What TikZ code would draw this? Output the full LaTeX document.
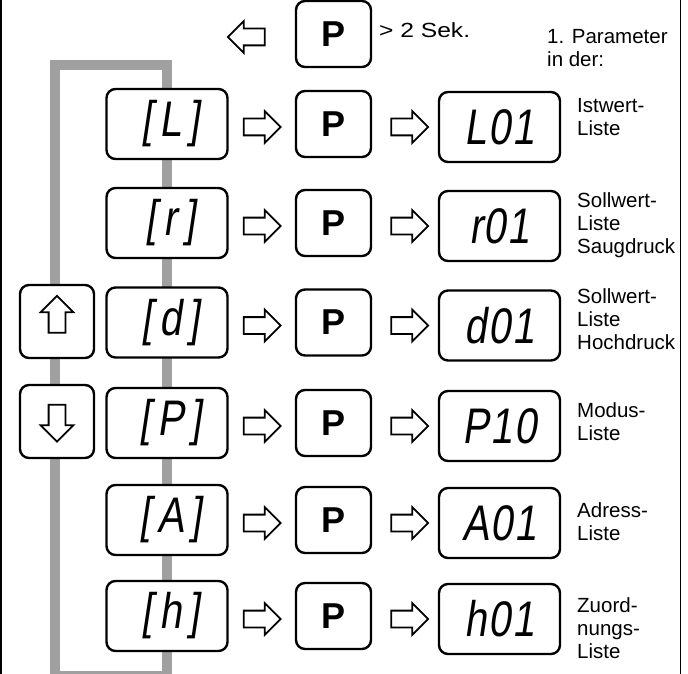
\documentclass[tikz,border=0pt]{standalone}
\usepackage{fontspec}
\setmainfont{Liberation Sans}
\newfontfamily\lcdfont[FakeSlant=0.15,FakeStretch=0.8,LetterSpace=3]{Liberation Sans}
\newfontfamily\lcdwide[FakeSlant=0.15,FakeStretch=0.8,LetterSpace=14]{Liberation Sans}
\newfontfamily\widefont[FakeStretch=1.2]{Liberation Sans}
\usetikzlibrary{shapes.arrows,backgrounds,calc}
\definecolor{loopgray}{RGB}{160,160,160}
\begin{document}
\begin{tikzpicture}[x=1pt,y=-1pt,
  rbox/.style={draw, line width=2.4pt, rounded corners=9pt, fill=white, inner sep=0pt},
  dispbox/.style={rbox, minimum width=121pt, minimum height=70pt},
  leftdisp/.style={dispbox, font=\lcdwide\fontsize{50}{50}\selectfont},
  rightdisp/.style={dispbox, font=\lcdfont\fontsize{50}{50}\selectfont},
  pbtn/.style={rbox, minimum width=75pt, minimum height=66pt, font=\bfseries\fontsize{36}{36}\selectfont},
  keybox/.style={rbox, minimum width=74pt, minimum height=73pt},
  blockarrow/.style={single arrow, draw, line width=1.8pt, fill=white, minimum height=37pt,
    inner sep=7.5pt, single arrow head extend=7.5pt, single arrow tip angle=90},
  sidetext/.style={align=left, inner sep=0pt, anchor=north west, font=\fontsize{20.5}{23}\selectfont},
  loopline/.style={draw=loopgray, line width=10pt}
]
\useasboundingbox (0,0) rectangle (688,674);
% frame lines
\draw[line width=1.5pt] (1,0) -- (1,674);
\draw[line width=1.5pt] (680.5,0) -- (680.5,674);

% top row
\node[pbtn] (P0) at (333.5,34) {P};
\node[blockarrow, shape border rotate=180] (a0) at (250.5,37) {};
\node[anchor=base west, inner sep=0pt, font=\widefont\fontsize{20.5}{23}\selectfont] (sek) at (379,37.5) {> 2 Sek.};
\node[sidetext] (param) at (547,29) {1. Parameter\\in der:};

% rows
\foreach \y/\a/\b [count=\i] in {124/{[L]}/L01, 223/{[r]}/r01, 322.5/{[d]}/d01, 423/{[P]}/P10, 520/{[A]}/A01, 616/{[h]}/h01} {
  \node[leftdisp] (C\i) at (167,\y) {\hspace{7pt}\a};
  \node[pbtn] (P\i) at (333.5,\y) {P};
  \node[rightdisp] (R\i) at (499.5,\y+3) {\b};
  \node[blockarrow] (a\i) at (258,\y+3) {};
  \node[blockarrow] (b\i) at (405.5,\y+3) {};
}

% side labels
\node[sidetext] (t1) at (577,98) {Istwert-\\Liste};
\node[sidetext] (t2) at (577,192) {Sollwert-\\Liste\\Saugdruck};
\node[sidetext] (t3) at (577,288) {Sollwert-\\Liste\\Hochdruck};
\node[sidetext] (t4) at (577,402) {Modus-\\Liste};
\node[sidetext] (t5) at (577,502) {Adress-\\Liste};
\node[sidetext] (t6) at (577,597) {Zuord-\\nungs-\\Liste};

% up / down keys
\node[keybox] (up) at (57,321.5) {};
\node[blockarrow, shape border rotate=90, single arrow head extend=8pt] (upa) at (57,318.5) {};
\node[keybox] (down) at (57,421.5) {};
\node[blockarrow, shape border rotate=270, single arrow head extend=8pt] (downa) at (57,419) {};

% grey loop
\begin{scope}[on background layer]
  \coordinate (lt) at (55,65);
  \coordinate (lb) at (55,676);
  \draw[loopline] (C1.north) |- (lt) -- (lb) -| (C6.south);
  \draw[loopline] (C1) -- (C6);
\end{scope}
\end{tikzpicture}
\end{document}
